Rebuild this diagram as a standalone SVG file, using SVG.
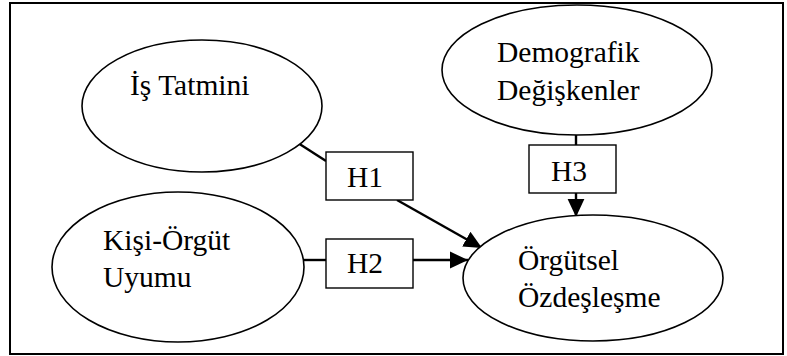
<svg xmlns="http://www.w3.org/2000/svg" width="787" height="356" viewBox="0 0 787 356">
<style>
.frame{fill:#fff;stroke:#000;stroke-width:2}
.ell{fill:#fff;stroke:#000;stroke-width:1.6}
.box{fill:#fff;stroke:#000;stroke-width:1.4}
.conn{stroke:#000;stroke-width:2.4;fill:none}
.t{font-family:'Liberation Serif','Times New Roman',serif;font-size:29.5px;fill:#000}
</style>
<defs>
<marker id="arr" markerWidth="8" markerHeight="8" refX="7.5" refY="3.5" orient="auto" markerUnits="strokeWidth" viewBox="0 0 8 7">
<path d="M0,0 L7.5,3.5 L0,7 Z" fill="#000"/>
</marker>
</defs>
<rect class="frame" x="10" y="3" width="773" height="351"/>
<g id="connectors">
<line class="conn" x1="298" y1="143" x2="326" y2="161"/>
<line class="conn" x1="397" y1="200" x2="482" y2="248" marker-end="url(#arr)"/>
<line class="conn" x1="304" y1="260" x2="326" y2="260"/>
<line class="conn" x1="413" y1="260" x2="468" y2="260" marker-end="url(#arr)"/>
<line class="conn" x1="576" y1="135" x2="576" y2="145"/>
<line class="conn" x1="576" y1="193" x2="576" y2="217" marker-end="url(#arr)"/>
</g>
<g id="is-tatmini">
<ellipse class="ell" cx="202" cy="106" rx="120" ry="66"/>
<text class="t" x="130" y="95">İş Tatmini</text>
</g>
<g id="demografik">
<ellipse class="ell" cx="577" cy="70" rx="135" ry="65"/>
<text class="t" x="497" y="62">Demografik</text>
<text class="t" x="497" y="100">Değişkenler</text>
</g>
<g id="kisi-orgut">
<ellipse class="ell" cx="178" cy="267" rx="126" ry="75"/>
<text class="t" x="103" y="250">Kişi-Örgüt</text>
<text class="t" x="103" y="287">Uyumu</text>
</g>
<g id="orgutsel">
<ellipse class="ell" cx="593" cy="278" rx="130" ry="63"/>
<text class="t" x="518" y="270">Örgütsel</text>
<text class="t" x="518" y="307">Özdeşleşme</text>
</g>
<g id="h1">
<rect class="box" x="326" y="152" width="87" height="48"/>
<text class="t" x="347" y="187">H1</text>
</g>
<g id="h2">
<rect class="box" x="326" y="239" width="87" height="49"/>
<text class="t" x="347" y="273">H2</text>
</g>
<g id="h3">
<rect class="box" x="529" y="145" width="87" height="48"/>
<text class="t" x="551" y="181">H3</text>
</g>
</svg>
